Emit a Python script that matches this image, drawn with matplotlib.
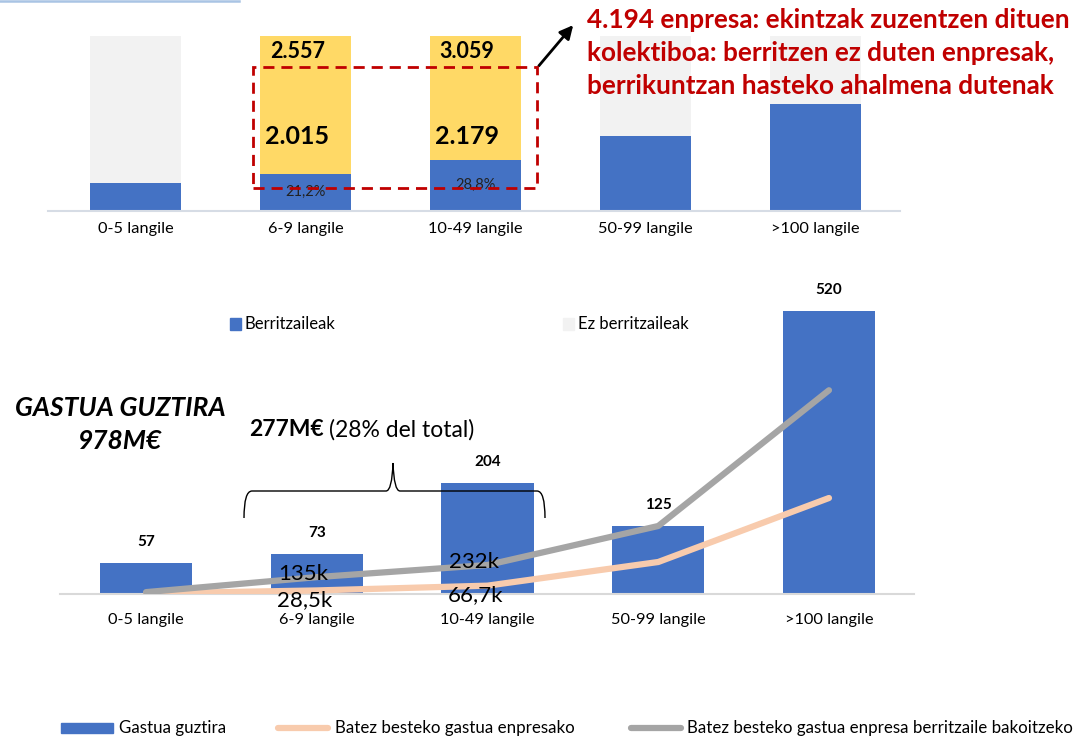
import numpy as np
import matplotlib.pyplot as plt
from matplotlib.patches import Rectangle, PathPatch, FancyArrowPatch
from matplotlib.path import Path
from matplotlib.lines import Line2D

plt.rcParams['font.family'] = ['Lato', 'DejaVu Sans']

W, H = 1081, 736

# ----------------------------------------------------------------------
# data
# ----------------------------------------------------------------------

SIZE_LABELS = ["0-5 langile", "6-9 langile", "10-49 langile", "50-99 langile", ">100 langile"]

# top chart: % berritzaileak per size (rest = ez berritzaileak)
INNOV_SHARE = [16.0, 21.2, 28.8, 42.5, 61.0]
TOTAL_FIRMS = ["", "2.557", "3.059", "", ""]
NON_INNOV_FIRMS = ["", "2.015", "2.179", "", ""]
HIGHLIGHT = [False, True, True, False, False]

# bottom chart: M€ spend and average spend (k€)
SPEND_TOTAL = [57, 73, 204, 125, 520]
AVG_SPEND_FIRM = [4, 28.5, 66.7, 256, 768]
AVG_SPEND_INNOV = [15, 135, 232, 544, 1630]
LINE_LABELED = [False, True, True, False, False]

BLUE = "#4472C4"
YELLOW = "#FFD966"
LIGHT = "#F2F2F2"
RED = "#C00000"
ORANGE = "#F8CBAD"
GRAY = "#A5A5A5"


def fx(x):
    return x / W


def fy(y):
    return 1 - y / H


def fmt_k(v):
    return f"{v:g}".replace(".", ",") + "k"


fig = plt.figure(figsize=(W / 100, H / 100), dpi=100)

# ----------------------------------------------------------------------
# top chart
# ----------------------------------------------------------------------
ax1 = fig.add_axes([fx(48), fy(210.5), fx(900) - fx(48), (210.5 - 36) / H])
x = np.arange(len(SIZE_LABELS))
share = np.array(INNOV_SHARE) / 100
rest_colors = [YELLOW if h else LIGHT for h in HIGHLIGHT]
ax1.bar(x, share, width=0.536, color=BLUE, zorder=2)
ax1.bar(x, 1 - share, bottom=share, width=0.536, color=rest_colors, zorder=2)
ax1.set_xlim(-0.518, 4.5)
ax1.set_ylim(0, 1)
for s in ["top", "left", "right"]:
    ax1.spines[s].set_visible(False)
ax1.spines["bottom"].set_color("#D6DCE5")
ax1.spines["bottom"].set_linewidth(1.5)
ax1.set_yticks([])
ax1.set_xticks(x, SIZE_LABELS, fontsize=11.8)
ax1.tick_params(axis="x", length=0, pad=8)

for i in range(len(x)):
    if TOTAL_FIRMS[i]:
        ax1.text(x[i] - 0.05, 0.91, TOTAL_FIRMS[i], ha="center", va="center",
                 fontsize=15.5, fontweight="bold", zorder=3)
    if NON_INNOV_FIRMS[i]:
        ax1.text(x[i] - 0.05, 0.425, NON_INNOV_FIRMS[i], ha="center", va="center",
                 fontsize=18, fontweight="bold", zorder=3)
    if HIGHLIGHT[i]:
        ax1.text(x[i], share[i] / 2, f"{INNOV_SHARE[i]:.1f}%".replace(".", ","),
                 ha="center", va="center", fontsize=10.5, color="#222222", zorder=3)

# dashed highlight box + arrow
box = Rectangle((fx(253), fy(188)), fx(537) - fx(253), (188 - 67) / H,
                transform=fig.transFigure, fill=False, edgecolor=RED,
                linewidth=2, linestyle=(0, (4, 2.5)), zorder=5)
fig.add_artist(box)
arrow = FancyArrowPatch((fx(537), fy(68)), (fx(575), fy(23)), transform=fig.transFigure,
                        arrowstyle="-|>", mutation_scale=20, linewidth=2, color="black")
fig.add_artist(arrow)

red_lines = ["4.194 enpresa: ekintzak zuzentzen dituen",
             "kolektiboa: berritzen ez duten enpresak,",
             "berrikuntzan hasteko ahalmena dutenak"]
for k, line in enumerate(red_lines):
    fig.text(fx(587), fy(20 + 33 * k), line, ha="left", va="center", color=RED,
             fontsize=18.8, fontweight="bold")

# top legend
fig.add_artist(Rectangle((fx(230), fy(330)), 11 / W, 12 / H, transform=fig.transFigure,
                         color=BLUE))
fig.text(fx(244), fy(324), "Berritzaileak", ha="left", va="center", fontsize=12)
fig.add_artist(Rectangle((fx(563), fy(330)), 11 / W, 12 / H, transform=fig.transFigure,
                         color=LIGHT))
fig.text(fx(578), fy(324), "Ez berritzaileak", ha="left", va="center", fontsize=12)

# thin line at top-left corner
fig.add_artist(Line2D([0, fx(239)], [fy(1.2), fy(1.2)], color="#A9C4E4", linewidth=1.8))

# ----------------------------------------------------------------------
# bottom chart
# ----------------------------------------------------------------------
ymax = 560
ax2 = fig.add_axes([fx(60), fy(594), fx(914) - fx(60), ymax * 0.5442 / H])
ax2.bar(x, SPEND_TOTAL, width=0.54, color=BLUE, zorder=2)
ax2.set_xlim(-0.504, 4.498)
ax2.set_ylim(0, ymax)
for s in ["top", "left", "right"]:
    ax2.spines[s].set_visible(False)
ax2.spines["bottom"].set_color("#D9D9D9")
ax2.spines["bottom"].set_linewidth(1.5)
ax2.set_yticks([])
ax2.set_xticks(x, SIZE_LABELS, fontsize=11.8)
ax2.tick_params(axis="x", length=0, pad=14)
for i, v in enumerate(SPEND_TOTAL):
    ax2.annotate(str(v), (x[i], v), xytext=(0, 10), textcoords="offset points",
                 ha="center", va="bottom", fontsize=11, fontweight="bold")

ax3 = ax2.twinx()
ax3.set_ylim(0, ymax * 0.5442 / 0.125)
ax3.axis("off")
ax3.plot(x, AVG_SPEND_FIRM, color=ORANGE, linewidth=4.5, solid_capstyle="round", zorder=3)
ax3.plot(x, AVG_SPEND_INNOV, color=GRAY, linewidth=4.5, solid_capstyle="round", zorder=4)
for i in range(len(x)):
    if LINE_LABELED[i]:
        ax3.annotate(fmt_k(AVG_SPEND_INNOV[i]), (x[i], AVG_SPEND_INNOV[i]), xytext=(-10, 2),
                     textcoords="offset points", ha="center", va="center", fontsize=16,
                     zorder=6)
        ax3.annotate(fmt_k(AVG_SPEND_FIRM[i]), (x[i], AVG_SPEND_FIRM[i]), xytext=(-9, -7),
                     textcoords="offset points", ha="center", va="center", fontsize=16,
                     zorder=6)

fig.text(fx(120), fy(408), "GASTUA GUZTIRA", ha="center", va="center", fontsize=19,
         fontweight="bold", fontstyle="italic")
fig.text(fx(120), fy(441), "978M€", ha="center", va="center", fontsize=19,
         fontweight="bold", fontstyle="italic")

t_bold = fig.text(fx(249), fy(430), "277M€", ha="left", va="center", fontsize=16.5,
                  fontweight="bold")
fig.canvas.draw()
bb = t_bold.get_window_extent()
fig.text(bb.x1 / W + 5 / W, fy(430), "(28% del total)", ha="left", va="center",
         fontsize=16.5)

# curly brace
pts = [(244, 518), (244, 491), (252, 491), (386, 491), (392, 491), (393, 463),
       (394, 491), (400, 491), (537, 491), (545, 491), (545, 518)]
codes = [Path.MOVETO, Path.CURVE3, Path.CURVE3, Path.LINETO, Path.CURVE3, Path.CURVE3,
         Path.CURVE3, Path.CURVE3, Path.LINETO, Path.CURVE3, Path.CURVE3]
brace = Path([(fx(a), fy(b)) for a, b in pts], codes)
fig.add_artist(PathPatch(brace, transform=fig.transFigure, fill=False,
                         edgecolor="black", linewidth=1))

# bottom legend
fig.add_artist(Rectangle((fx(61), fy(733)), 52 / W, 10 / H, transform=fig.transFigure,
                         color=BLUE))
fig.text(fx(119), fy(728), "Gastua guztira", ha="left", va="center", fontsize=12.2)
fig.add_artist(Line2D([fx(278), fx(328)], [fy(728), fy(728)], color=ORANGE,
                      linewidth=4.5, solid_capstyle="round"))
fig.text(fx(335), fy(728), "Batez besteko gastua enpresako", ha="left", va="center",
         fontsize=12.2)
fig.add_artist(Line2D([fx(631), fx(681)], [fy(728), fy(728)], color=GRAY,
                      linewidth=4.5, solid_capstyle="round"))
fig.text(fx(687), fy(728), "Batez besteko gastua enpresa berritzaile bakoitzeko",
         ha="left", va="center", fontsize=12.2)

fig.savefig("out.png", dpi=100)
